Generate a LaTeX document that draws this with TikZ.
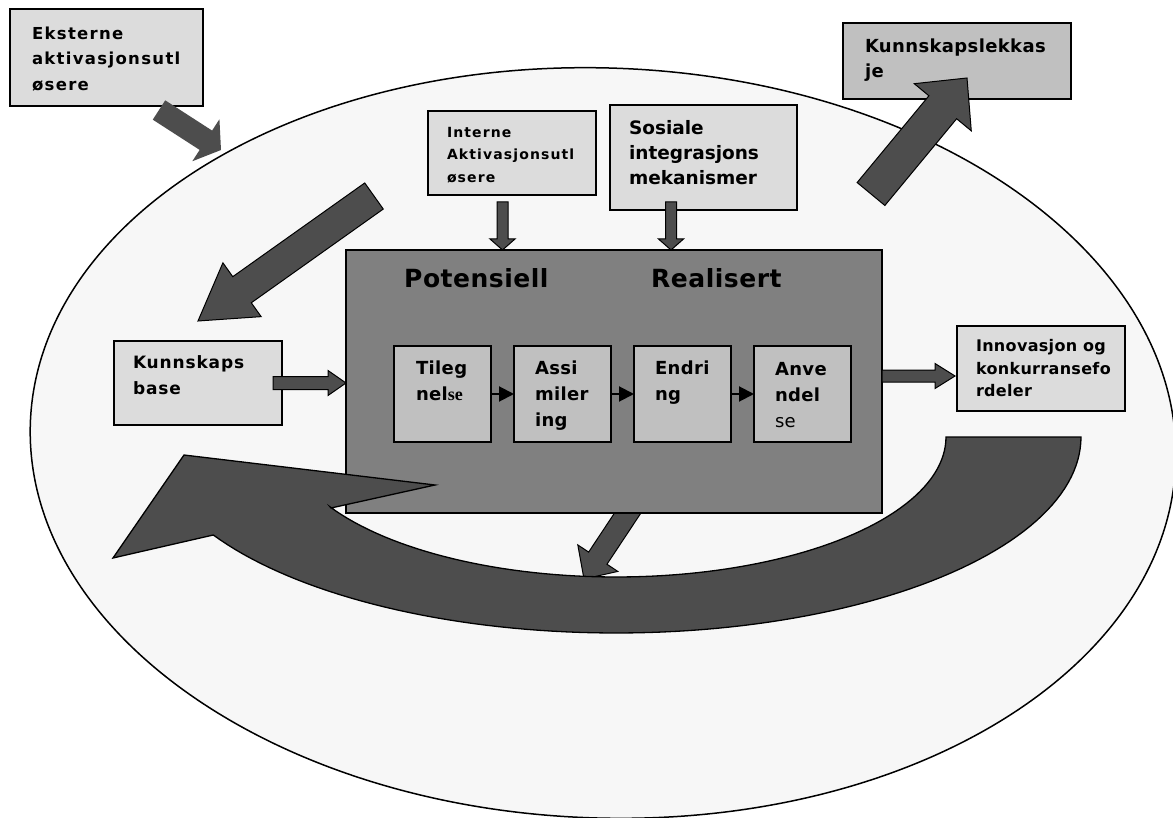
\documentclass[tikz,border=0pt]{standalone}
\usepackage{fontspec}
\setmainfont{DejaVu Sans}
\newfontfamily\dvO{DejaVu Sans}
\newfontfamily\dvA[LetterSpace=2]{DejaVu Sans}
\newfontfamily\dvB[LetterSpace=5]{DejaVu Sans}
\newfontfamily\dvC[LetterSpace=8]{DejaVu Sans}
\newfontfamily\serb{Liberation Serif}
\usetikzlibrary{calc,arrows.meta}
\definecolor{ellfill}{HTML}{F7F7F7}
\definecolor{darkar}{HTML}{4D4D4D}
\definecolor{bigfill}{HTML}{808080}
\definecolor{midfill}{HTML}{C0C0C0}
\definecolor{lightfill}{HTML}{DCDCDC}
\tikzset{
  lbox/.style={draw=black, line width=1.5pt, fill=lightfill, inner sep=0pt, outer sep=0pt, anchor=north west},
  sbox/.style={draw=black, line width=2pt, fill=midfill, inner sep=0pt, outer sep=0pt, anchor=north west, minimum width=97pt, minimum height=96pt},
  txt/.style={inner sep=0pt, outer sep=0pt, align=left, anchor=north west},
  barr/.style={fill=darkar, draw=black, line width=1pt, line join=miter},
  flow/.style={line width=2pt, -{Triangle[length=15pt,width=15pt]}},
}
\newcommand{\blockarr}[6][]{%
  \coordinate (bantmp) at ($(#3)!#6!(#2)$);
  \draw[barr,#1] ($(#2)!#4!90:(#3)$) -- ($(bantmp)!#4!90:(#3)$) -- ($(bantmp)!#5!90:(#3)$) -- (#3)
    -- ($(bantmp)!#5!-90:(#3)$) -- ($(bantmp)!#4!-90:(#3)$) -- ($(#2)!#4!-90:(#3)$) -- cycle;}
\begin{document}
\begin{tikzpicture}[x=1pt,y=-1pt]
\useasboundingbox (0,0) rectangle (1173,818);
\fill[white] (0,0) rectangle (1173,818);
% ellipse
\draw[fill=ellfill, line width=1.5pt, rotate around={-2:(603,443)}] (603,443) ellipse [x radius=573pt, y radius=375pt];

% external triggers
\node[lbox, minimum width=193pt, minimum height=97pt] (E) at (10,9) {};
\node[txt, font={\dvC\bfseries\fontsize{16.5}{25.5}\selectfont}] (tE) at (32,26.5) {Eksterne\\aktivasjonsutl\\øsere};
\coordinate (eA) at ($(E.south east)+(-44,4)$);
\coordinate (eB) at (221,150);
\blockarr[draw=none]{eA}{eB}{11.5pt}{25pt}{18pt}

% knowledge leakage
\node[lbox, fill=midfill, minimum width=228pt, minimum height=76pt] (L) at (843,23) {};
\node[txt, font={\dvA\bfseries\fontsize{18}{25}\selectfont}] (tL) at (865,39.3) {Kunnskapslekkas\\je};
\coordinate (lA) at (871,194);
\coordinate (lB) at (967,78);
\blockarr{lA}{lB}{18pt}{37pt}{38pt}

% internal triggers, social integration
\node[lbox, minimum width=168pt, minimum height=84pt] (I) at (428,111) {};
\node[txt, font={\dvC\bfseries\fontsize{14}{22.5}\selectfont}] (tI) at (447,126.8) {Interne\\Aktivasjonsutl\\øsere};
\node[lbox, minimum width=187pt, minimum height=105pt] (S) at (610,105) {};
\node[txt, font={\dvO\bfseries\fontsize{18.5}{25}\selectfont}] (tS) at (629,120.9) {Sosiale\\integrasjons\\mekanismer};

% knowledge base
\node[lbox, minimum width=168pt, minimum height=84pt] (KB) at (114,341) {};
\node[txt, font={\dvB\bfseries\fontsize{17}{26}\selectfont}] (tKB) at (133,355.1) {Kunnskaps\\base};

% innovation
\node[lbox, minimum width=168pt, minimum height=85pt] (IN) at (957,326) {};
\node[txt, font={\dvA\bfseries\fontsize{16}{22.5}\selectfont}] (tIN) at (976,339.8) {Innovasjon og\\konkurransefo\\rdeler};

% arrow from the big box down to the cycle arrow (behind)
\coordinate (cA) at (639,496);
\coordinate (cB) at (584,579);
\blockarr{cA}{cB}{11pt}{24pt}{25pt}

% big box
\node[draw=black, line width=2pt, fill=bigfill, inner sep=0pt, outer sep=0pt, anchor=north west, minimum width=536pt, minimum height=263pt] (BB) at (346,250) {};
\node[inner sep=0pt, anchor=base west, font={\dvA\bfseries\fontsize{25}{30}\selectfont}] (pot) at (404,288) {Potensiell};
\node[inner sep=0pt, anchor=base west, font={\dvA\bfseries\fontsize{25}{30}\selectfont}] (rea) at (651,288) {Realisert};

\node[sbox] (T1) at (394,346) {};
\node[sbox] (T2) at (514,346) {};
\node[sbox] (T3) at (634,346) {};
\node[sbox] (T4) at (754,346) {};
\node[txt, font={\dvA\bfseries\fontsize{18}{26}\selectfont}] (tT1) at (416,361.3) {Tileg\\nel{\serb se}};
\node[txt, font={\dvA\bfseries\fontsize{18}{26}\selectfont}] (tT2) at (535,361.3) {Assi\\miler\\ing};
\node[txt, font={\dvA\bfseries\fontsize{18}{26}\selectfont}] (tT3) at (655,361.3) {Endri\\ng};
\node[txt, font={\dvA\bfseries\fontsize{18}{26}\selectfont}] (tT4) at (775,361.9) {Anve\\ndel\\{\mdseries se}};
\draw[flow] (T1.east) -- (T2.west);
\draw[flow] (T2.east) -- (T3.west);
\draw[flow] (T3.east) -- (T4.west);

% big curved cycle arrow
\draw[barr, line width=1.3pt]
  plot[domain=0:150, samples=90] ({616+465*cos(\x)},{437+196*sin(\x)})
  -- (113,558) -- (184,455) -- (435,485) -- (331,508)
  -- plot[domain=150:0, samples=80] ({616+330*cos(\x)},{437+140*sin(\x)})
  -- cycle;

% input arrows into the big box
\coordinate (iA) at ($(I.south)+(-9.5,7)$);
\coordinate (iB) at (iA |- BB.north);
\blockarr{iA}{iB}{5.5pt}{12.5pt}{11pt}
\coordinate (sA) at ($(S.south)+(-32.5,-8)$);
\coordinate (sB) at (sA |- BB.north);
\blockarr{sA}{sB}{5.5pt}{12.5pt}{11pt}
\coordinate (kA) at ($(KB.east)+(-9,0)$);
\coordinate (kB) at (BB.west |- kA);
\blockarr{kA}{kB}{6.5pt}{12.5pt}{18pt}
\coordinate (nB) at ($(IN.west)+(-2,7.5)$);
\coordinate (nA) at (BB.east |- nB);
\blockarr{nA}{nB}{6pt}{12.5pt}{20pt}

% big arrow towards the knowledge base
\coordinate (bA) at (374,196);
\coordinate (bB) at (198,321);
\blockarr{bA}{bB}{16pt}{33pt}{54pt}
\end{tikzpicture}
\end{document}
